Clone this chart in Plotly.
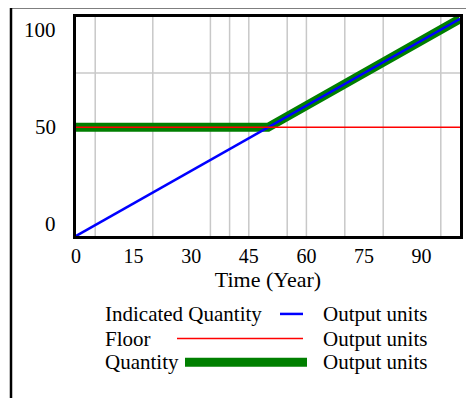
import plotly.graph_objects as go

# ---- data ----
TIME = [0, 50, 100]
INDICATED_QUANTITY = [0, 50, 100]
FLOOR = [50, 50, 50]
QUANTITY = [50, 50, 100]

X_TICKS = [0, 15, 30, 45, 60, 75, 90]
X_GRID = [5, 20, 35, 40, 45, 55, 60, 70, 80, 95]
Y_GRID = [75]
Y_TICKS = [0, 50, 100]
Y_TICK_LABELS = ["0", "50", "100"]
SERIES_NAMES = ["Indicated Quantity", "Floor", "Quantity"]
UNITS = "Output units"
X_TITLE = "Time (Year)"

# ---- layout geometry (page body has an 8px margin) ----
OFF = 8
W, H = 474 - OFF, 398 - OFF
PL, PR, PT, PB = 76, 460, 14, 236   # plot area in window pixels
L, R, T, B = PL - OFF, W - (PR - OFF), PT - OFF, H - (PB - OFF)
PW = PR - PL
PH = PB - PT
FONT = "Liberation Serif"
FS = 20


def px(x):
    return (x - PL) / PW


def py(y):
    return (PB - y) / PH


COLORS = {"Indicated Quantity": "#0000ff", "Floor": "#ff0000", "Quantity": "#007f00"}
WIDTHS = {"Indicated Quantity": 2.5, "Floor": 1.5, "Quantity": 9}

fig = go.Figure()
series = {"Quantity": QUANTITY, "Indicated Quantity": INDICATED_QUANTITY, "Floor": FLOOR}
for name in ["Quantity", "Indicated Quantity", "Floor"]:
    fig.add_trace(go.Scatter(
        x=TIME, y=series[name], mode="lines", name=name,
        line=dict(color=COLORS[name], width=WIDTHS[name]),
        showlegend=False, hoverinfo="skip",
    ))

shapes = []
for gx in X_GRID:
    shapes.append(dict(type="line", xref="x", yref="paper", x0=gx, x1=gx, y0=0, y1=1,
                       line=dict(color="#c8c8c8", width=1.5), layer="below"))
for gy in Y_GRID:
    shapes.append(dict(type="line", xref="paper", yref="y", x0=0, x1=1, y0=gy, y1=gy,
                       line=dict(color="#c8c8c8", width=1.5), layer="below"))

# outer frame (top and left edges)
shapes.append(dict(type="path", xref="paper", yref="paper",
                   path=f"M {px(11)} {py(402)} L {px(11)} {py(4)} L {px(480)} {py(4)}",
                   line=dict(color="black", width=2.5)))

annotations = []
y_shifts = [12, 0, -11]
for v, lab, s in zip(Y_TICKS, Y_TICK_LABELS, y_shifts):
    annotations.append(dict(x=0, xref="paper", y=v, yref="y", yshift=s, xshift=-18,
                            text=lab, showarrow=False, xanchor="right", yanchor="middle",
                            font=dict(family=FONT, size=21, color="black")))

# custom legend (Vensim style)
rows = [315, 340, 364]
swatch = {"Indicated Quantity": (280, 303), "Floor": (177, 303), "Quantity": (185, 307)}
for name, ry in zip(SERIES_NAMES, rows):
    annotations.append(dict(x=px(103), xref="paper", y=py(ry), yref="paper", text=name,
                            showarrow=False, xanchor="left", yanchor="middle",
                            font=dict(family=FONT, size=21, color="black")))
    annotations.append(dict(x=px(321), xref="paper", y=py(ry), yref="paper", text=UNITS,
                            showarrow=False, xanchor="left", yanchor="middle",
                            font=dict(family=FONT, size=21, color="black")))
    x0, x1 = swatch[name]
    shapes.append(dict(type="line", xref="paper", yref="paper",
                       x0=px(x0), x1=px(x1), y0=py(ry), y1=py(ry),
                       line=dict(color=COLORS[name], width=WIDTHS[name])))

fig.update_layout(
    width=W, height=H,
    margin=dict(l=L, r=R, t=T, b=B),
    paper_bgcolor="white", plot_bgcolor="white",
    shapes=shapes, annotations=annotations,
    showlegend=False,
    xaxis=dict(range=[0, 100], tickvals=X_TICKS, ticktext=[str(v) for v in X_TICKS],
               showgrid=False, zeroline=False, showline=True, linecolor="black",
               linewidth=3, mirror=True, ticks="",
               tickfont=dict(family=FONT, size=FS, color="black"),
               title=dict(text=X_TITLE, font=dict(family=FONT, size=22, color="black"), standoff=0)),
    yaxis=dict(range=[0, 100.8], showgrid=False, zeroline=False, showline=True,
               linecolor="black", linewidth=3, mirror=True, ticks="", showticklabels=False),
)

fig.write_html("out.html")
